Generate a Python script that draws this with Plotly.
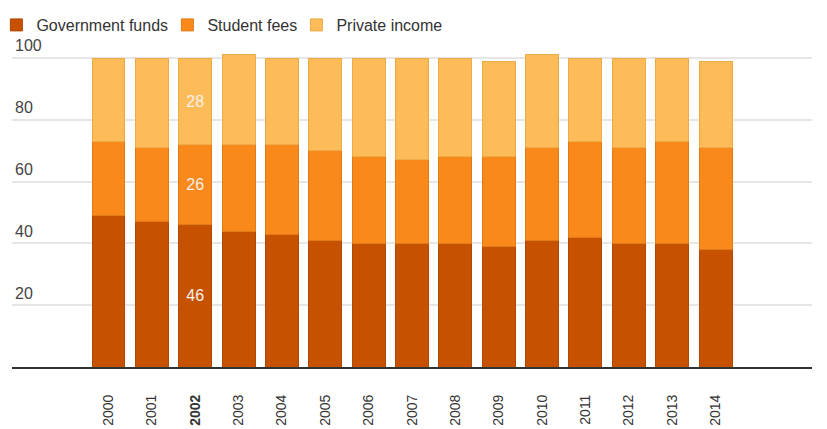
import plotly.graph_objects as go

years = ["2000", "2001", "2002", "2003", "2004", "2005", "2006", "2007",
         "2008", "2009", "2010", "2011", "2012", "2013", "2014"]
government = [49, 47, 46, 44, 43, 41, 40, 40, 40, 39, 41, 42, 40, 40, 38]
student = [24, 24, 26, 28, 29, 29, 28, 27, 28, 29, 30, 31, 31, 33, 33]
private = [27, 29, 28, 29, 28, 30, 32, 33, 32, 31, 30, 27, 29, 27, 28]
labelled_year = "2002"
tick_text = [f"<b>{y}</b>" if y == labelled_year else y for y in years]

series = [
    ("Government funds", government, "#C65200", "#B04800", "legend"),
    ("Student fees", student, "#FA891C", "#E07A14", "legend2"),
    ("Private income", private, "#FDBC58", "#EDAA48", "legend3"),
]

fig = go.Figure()
for name, vals, col, line, leg in series:
    texts = [str(v) if y == labelled_year else "" for y, v in zip(years, vals)]
    fig.add_trace(go.Bar(
        name=name, x=years, y=vals, legend=leg,
        marker=dict(color=col, line=dict(color=line, width=1)),
        text=texts, textposition="inside", insidetextanchor="middle",
        textfont=dict(color="#F4F0EA", size=16, family="Arial, Liberation Sans"),
        textangle=0, cliponaxis=False,
    ))

plot_l, plot_r, plot_t, plot_b = 12, 15, 30, 62
width, height = 827, 429
spacing = 43.36
first_center = 108.5
start = -(first_center - plot_l) / spacing
end = start + (width - plot_l - plot_r) / spacing
px_per_unit = 3.09
ytop = (height - plot_b - plot_t) / px_per_unit
plot_w = width - plot_l - plot_r
plot_h = height - plot_t - plot_b
legend_y = 1 + (plot_t - 25) / plot_h


def legend_at(square_px):
    return dict(orientation="h", x=(square_px - 13.6 - plot_l) / plot_w, xanchor="left",
                y=legend_y, yanchor="middle",
                font=dict(size=16, color="#333333"),
                itemwidth=30, bgcolor="rgba(0,0,0,0)")


fig.update_layout(
    width=width, height=height,
    barmode="stack", bargap=0.24,
    paper_bgcolor="white", plot_bgcolor="white",
    margin=dict(l=plot_l, r=plot_r, t=plot_t, b=plot_b, autoexpand=False),
    font=dict(family="Arial, Liberation Sans", color="#444444", size=14),
    legend=legend_at(10), legend2=legend_at(181), legend3=legend_at(310),
    showlegend=True,
    uniformtext=dict(minsize=8, mode="show"),
)
fig.update_xaxes(
    type="category", range=[start, end], tickangle=-90,
    tickvals=years, ticktext=tick_text,
    tickfont=dict(size=14, color="#333333"),
    showline=True, linecolor="#333333", linewidth=2,
    showgrid=False, ticks="", ticklabelstandoff=20,
)
fig.update_yaxes(
    range=[0, ytop], tickvals=[20, 40, 60, 80, 100],
    ticklabelposition="inside top", ticklabelshift=-1,
    tickfont=dict(size=16, color="#444444"),
    showgrid=True, gridcolor="#E6E6E6", gridwidth=1.5,
    zeroline=False, showline=False, ticks="",
)
fig.write_html("out.html")
